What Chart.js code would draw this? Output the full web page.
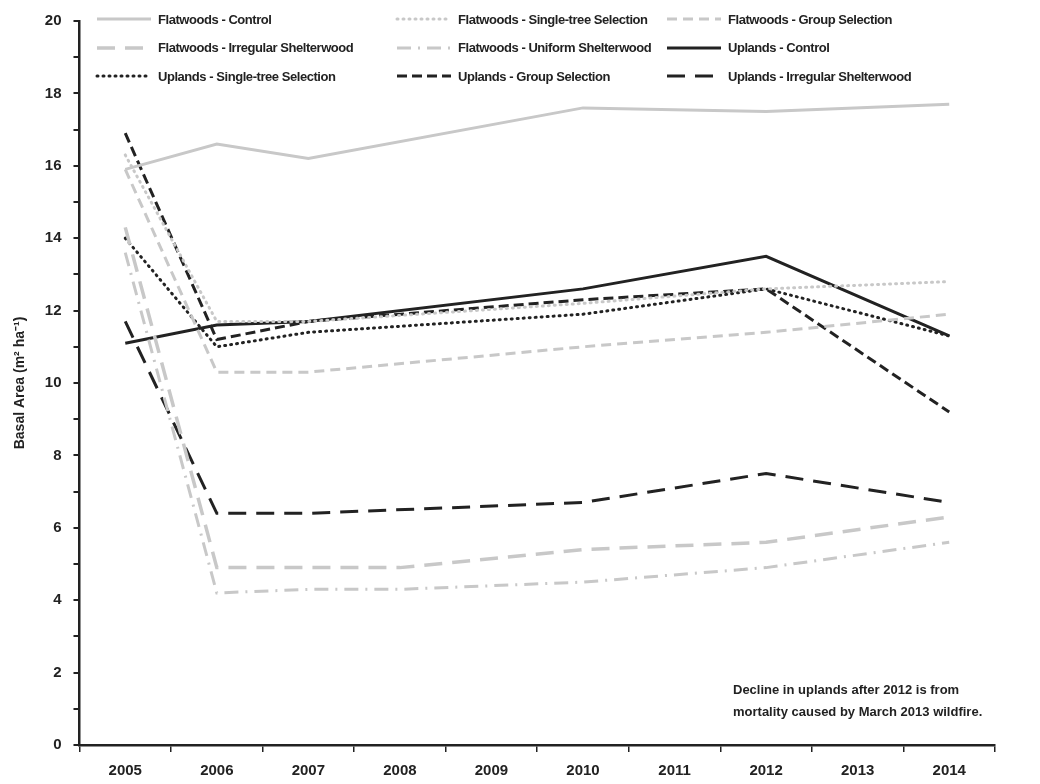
<!DOCTYPE html>
<html><head><meta charset="utf-8">
<script src="https://cdn.jsdelivr.net/npm/chart.js@4"></script>
<style>
body{margin:0;background:#fff;font-family:"Liberation Sans",Arial,sans-serif}
#wrap{position:relative;width:1040px;height:784px}
#legend{position:absolute;left:95px;top:5px;width:920px;font-weight:bold;font-size:13px;letter-spacing:-0.45px;color:#222;white-space:nowrap}
.row{display:flex;height:28.5px;align-items:center}
.it{display:flex;align-items:center}
.it svg{margin-right:5px}
</style></head><body>
<div id="wrap"><canvas id="c" width="1040" height="784"></canvas><div id="legend"></div></div>
<script>
const years=['2005','2006','2007','2008','2009','2010','2011','2012','2013','2014'];
const N=null;
const fwControl=[15.9,16.6,16.2,N,N,17.6,N,17.5,N,17.7];
const fwSingle=[16.3,11.7,11.7,N,N,12.2,N,12.6,N,12.8];
const fwGroup=[15.9,10.3,10.3,N,N,11.0,N,11.4,N,11.9];
const fwIrregular=[14.3,4.9,4.9,4.9,N,5.4,N,5.6,N,6.3];
const fwUniform=[13.6,4.2,4.3,4.3,N,4.5,N,4.9,N,5.6];
const upControl=[11.1,11.6,11.7,N,N,12.6,N,13.5,N,11.3];
const upSingle=[14.0,11.0,11.4,N,N,11.9,N,12.6,N,11.3];
const upGroup=[16.9,11.2,11.7,N,N,12.3,N,12.6,N,9.2];
const upIrregular=[11.7,6.4,6.4,N,N,6.7,N,7.5,N,6.7];
const names=['Flatwoods - Control','Flatwoods - Single-tree Selection','Flatwoods - Group Selection','Flatwoods - Irregular Shelterwood','Flatwoods - Uniform Shelterwood','Uplands - Control','Uplands - Single-tree Selection','Uplands - Group Selection','Uplands - Irregular Shelterwood'];
const G='#c8c8c8',K='#222';
const styles=[
 {c:G,d:[],w:3,cap:'butt'},
 {c:G,d:[1,5],w:3,cap:'round'},
 {c:G,d:[10,6],w:3,cap:'butt'},
 {c:G,d:[18,10],w:3.5,cap:'butt'},
 {c:G,d:[14,7,2,7],w:3,cap:'butt'},
 {c:K,d:[],w:3,cap:'butt'},
 {c:K,d:[1,5],w:3,cap:'round'},
 {c:K,d:[10,5],w:3,cap:'butt'},
 {c:K,d:[18,10],w:3,cap:'butt'}];
const data=[fwControl,fwSingle,fwGroup,fwIrregular,fwUniform,upControl,upSingle,upGroup,upIrregular];
const ds=data.map((d,i)=>({label:names[i],data:d,borderColor:styles[i].c,borderDash:styles[i].d,borderWidth:styles[i].w,borderCapStyle:styles[i].cap,pointRadius:0,spanGaps:true,tension:0,fill:false}));
const F='"Liberation Sans",Arial,sans-serif';
const note={id:'note',afterDraw(ch){const x=ch.ctx;x.save();x.font='bold 13px '+F;x.fillStyle='#222';x.textAlign='left';
x.fillText('Decline in uplands after 2012 is from',733,694);x.fillText('mortality caused by March 2013 wildfire.',733,716);x.restore();}};
new Chart(document.getElementById('c'),{type:'line',data:{labels:years,datasets:ds},plugins:[note],
options:{responsive:false,animation:false,layout:{padding:{left:8,right:45,top:10,bottom:-6}},
plugins:{legend:{display:false},tooltip:{enabled:false}},
scales:{x:{offset:true,grid:{display:true,drawOnChartArea:false,offset:true,color:'#222',tickLength:7,lineWidth:1.5},border:{color:'#222',width:2.5},
ticks:{color:'#222',font:{family:F,weight:'bold',size:15},padding:10}},
y:{min:0,max:20,grid:{drawOnChartArea:false,color:'#222',tickLength:6,lineWidth:2},border:{color:'#222',width:2.5},
ticks:{stepSize:1,color:'#222',font:{family:F,weight:'bold',size:15},callback:v=>v%2===0?v:'',padding:12},
title:{display:true,text:'Basal Area (m² ha⁻¹)',color:'#222',font:{family:F,weight:'bold',size:14}}}}}});
const lg=document.getElementById('legend');
const widths=[300,270,330];
for(let r=0;r<3;r++){const row=document.createElement('div');row.className='row';
for(let c=0;c<3;c++){const i=r*3+c,s=styles[i];const it=document.createElement('div');it.className='it';it.style.width=widths[c]+'px';
it.innerHTML=`<svg width="58" height="8"><line x1="2" y1="4" x2="56" y2="4" stroke="${s.c}" stroke-width="${s.w}" stroke-linecap="${s.cap}" stroke-dasharray="${s.d.join(' ')}"/></svg><span>${names[i]}</span>`;
row.appendChild(it);}lg.appendChild(row);}
</script></body></html>
